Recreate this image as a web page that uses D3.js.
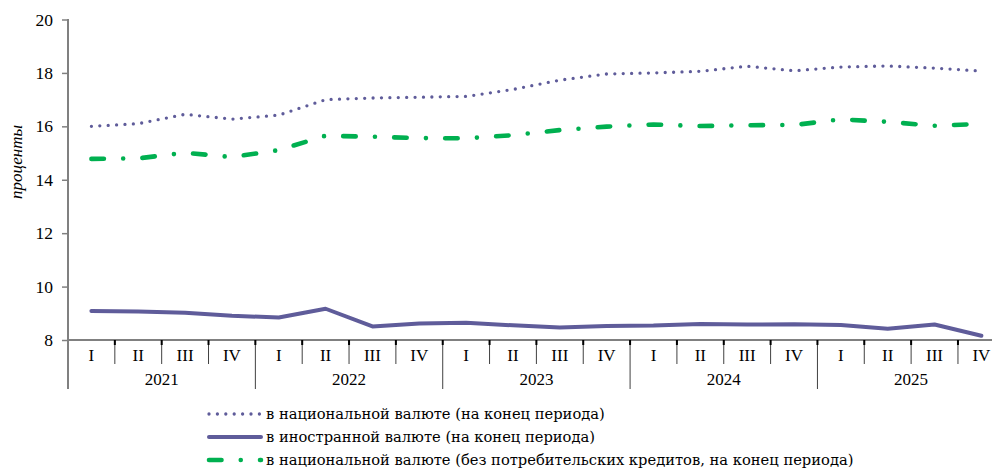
<!DOCTYPE html>
<html>
<head>
<meta charset="utf-8">
<script src="https://cdn.jsdelivr.net/npm/d3@7"></script>
<style>
  body { margin: 0; background: #fff; }
  svg { display: block; }
</style>
</head>
<body>
<div id="chart"></div>
<script>
// data
const years = ["2021", "2022", "2023", "2024", "2025"];
const quarters = ["I", "II", "III", "IV"];
const yTicks = [8, 10, 12, 14, 16, 18, 20];

const natCurrency = [16.0, 16.1, 16.45, 16.27, 16.42, 17.0, 17.06, 17.09, 17.12, 17.38,
  17.73, 17.96, 18.0, 18.06, 18.25, 18.08, 18.22, 18.26, 18.18, 18.07];
const forCurrency = [9.09, 9.07, 9.02, 8.91, 8.84, 9.17, 8.51, 8.62, 8.65, 8.55,
  8.47, 8.52, 8.54, 8.6, 8.58, 8.59, 8.56, 8.42, 8.58, 8.16];
const natNoConsumer = [14.78, 14.8, 15.01, 14.85, 15.11, 15.65, 15.61, 15.56, 15.55, 15.67,
  15.86, 15.99, 16.07, 16.01, 16.04, 16.05, 16.26, 16.17, 16.02, 16.09];

const legendLabels = [
  "в национальной валюте (на конец периода)",
  "в иностранной валюте (на конец периода)",
  "в национальной валюте (без потребительских кредитов, на конец периода)"
];

// quarter keys
const periods = [];
years.forEach(y => quarters.forEach(q => periods.push(y + "-" + q)));

const width = 992, height = 470;
const left = 68, qWidth = 46.84;
const axisY = 340;
const serif = "Liberation Serif, Times New Roman, serif";

const svg = d3.select("#chart").append("svg")
  .attr("width", width)
  .attr("height", height)
  .attr("font-family", serif);

const x = d3.scaleBand()
  .domain(periods)
  .range([left, left + qWidth * periods.length])
  .padding(0);

const y = d3.scaleLinear()
  .domain([8, 20])
  .range([axisY, 19.5]);

// y axis
const yAxis = svg.append("g")
  .attr("transform", "translate(" + left + ",0)")
  .call(d3.axisLeft(y).tickValues(yTicks).tickSize(6).tickPadding(9));
yAxis.attr("font-family", serif);
yAxis.select(".domain").remove();
yAxis.selectAll(".tick line").attr("stroke", "#808080").attr("stroke-width", 1.5);
yAxis.selectAll(".tick text")
  .attr("font-family", serif)
  .attr("font-size", 17.5)
  .attr("fill", "#000");

svg.append("line")
  .attr("x1", left).attr("x2", left)
  .attr("y1", 19).attr("y2", 389)
  .attr("stroke", "#808080").attr("stroke-width", 2);

// y title
svg.append("text")
  .attr("transform", "translate(22,162) rotate(-90)")
  .attr("text-anchor", "middle")
  .attr("font-size", 17)
  .attr("font-style", "italic")
  .text("проценты");

// x axis line
svg.append("line")
  .attr("x1", left).attr("x2", width)
  .attr("y1", axisY).attr("y2", axisY)
  .attr("stroke", "#808080").attr("stroke-width", 2);

// quarter / year separators
periods.forEach((p, i) => {
  if (i === 0) return;
  const xx = x(p);
  const isYear = i % 4 === 0;
  svg.append("line")
    .attr("x1", xx).attr("x2", xx)
    .attr("y1", axisY).attr("y2", isYear ? 389 : 364)
    .attr("stroke", "#404040").attr("stroke-width", 1);
  svg.append("line")
    .attr("x1", xx).attr("x2", xx)
    .attr("y1", axisY).attr("y2", axisY + 5)
    .attr("stroke", "#000").attr("stroke-width", 2);
});

// quarter labels
svg.append("g").selectAll("text")
  .data(periods)
  .enter().append("text")
  .attr("x", d => x(d) + x.bandwidth() / 2)
  .attr("y", 355)
  .attr("dy", "0.35em")
  .attr("text-anchor", "middle")
  .attr("font-size", 17)
  .text(d => d.split("-")[1]);

// year labels
svg.append("g").selectAll("text")
  .data(years)
  .enter().append("text")
  .attr("x", d => x(d + "-I") + qWidth * 2)
  .attr("y", 379)
  .attr("dy", "0.35em")
  .attr("text-anchor", "middle")
  .attr("font-size", 17)
  .text(d => d);

// lines
const line = d3.line()
  .x((d, i) => x(periods[i]) + x.bandwidth() / 2)
  .y(d => y(d));

const styles = [
  {data: natCurrency, color: "#5f5c9a", width: 3.3, dash: "0,8.4", cap: "round"},
  {data: forCurrency, color: "#5f5c9a", width: 4, dash: null, cap: "round"},
  {data: natNoConsumer, color: "#00b050", width: 4.6, dash: "12.5,19.25,0,19.25", cap: "round"}
];

styles.forEach(s => {
  svg.append("path")
    .datum(s.data)
    .attr("d", line)
    .attr("fill", "none")
    .attr("stroke", s.color)
    .attr("stroke-width", s.width)
    .attr("stroke-linecap", s.cap)
    .attr("stroke-linejoin", "round")
    .attr("stroke-dasharray", s.dash);
});

// legend
const legendRows = [414, 437, 460];
styles.forEach((s, i) => {
  svg.append("line")
    .attr("x1", 209).attr("x2", 261)
    .attr("y1", legendRows[i]).attr("y2", legendRows[i])
    .attr("stroke", s.color)
    .attr("stroke-width", s.width)
    .attr("stroke-linecap", s.cap)
    .attr("stroke-dasharray", s.dash);
  svg.append("text")
    .attr("x", 266)
    .attr("y", legendRows[i])
    .attr("dy", "0.35em")
    .attr("font-family", "DejaVu Serif, serif")
    .attr("font-size", 14.7)
    .text(legendLabels[i]);
});
</script>
</body>
</html>
